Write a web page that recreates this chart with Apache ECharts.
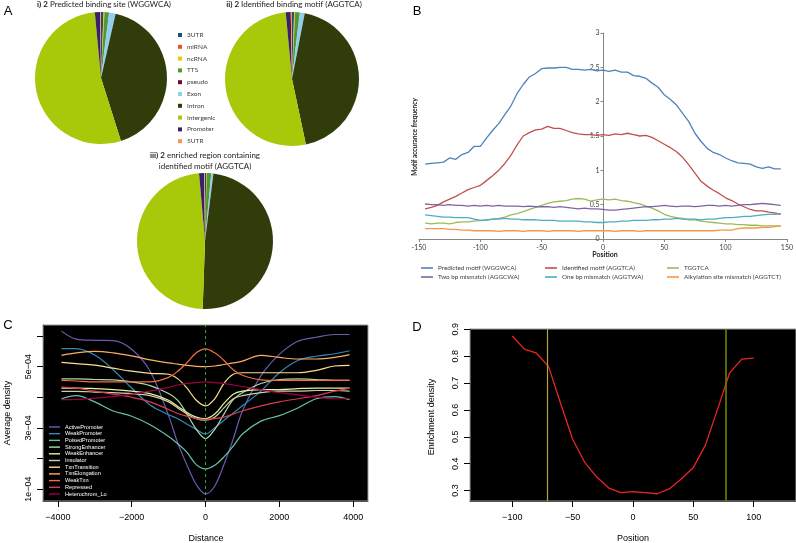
<!DOCTYPE html>
<html><head><meta charset="utf-8">
<script src="https://cdn.jsdelivr.net/npm/echarts@6/dist/echarts.min.js"></script>
<style>html,body{margin:0;padding:0;background:#fff}#c{width:796px;height:543px}</style>
</head><body><div id="c"></div>
<script>
// ---------- Panel A: genomic annotation pies ----------
const pieCategories = ['3UTR','miRNA','ncRNA','TTS','pseudo','Exon','Intron','Intergenic','Promoter','5UTR'];
const pieColors = ['#1f4e79','#e8542b','#f5c400','#4e9a2a','#6d0b2b','#8fd0f0','#303d0b','#a8c80a','#3b2066','#f79646'];
const pie1Values = [0.6,0.05,0.2,1.0,0.1,1.6,41.5,53.3,1.3,0.2];
const pie2Values = [0.5,0.05,0.2,1.0,0.1,1.2,43.6,51.8,1.2,0.3];
const pie3Values = [0.3,0.02,0.1,1.0,0.05,0.5,48.5,48.0,1.2,0.2];

// ---------- Panel B: motif occurrence frequency ----------
const bPositions = [-145,-140,-135,-130,-125,-120,-115,-110,-105,-100,-95,-90,-85,-80,-75,-70,-65,-60,-55,-50,-45,-40,-35,-30,-25,-20,-15,-10,-5,0,5,10,15,20,25,30,35,40,45,50,55,60,65,70,75,80,85,90,95,100,105,110,115,120,125,130,135,140,145];
const bNames = ['Predicted motif (WGGWCA)','Identified motif (AGGTCA)','TGGTCA','Two bp mismatch (AGGCWA)','One bp mismatch (AGGTWA)','Alkylation site mismatch (AGGTCT)'];
const bColors = ['#4f81bd','#c0504d','#9bbb59','#8064a2','#4bacc6','#f79646'];
const bPredicted = [1.09,1.10,1.11,1.12,1.18,1.16,1.23,1.26,1.35,1.35,1.47,1.58,1.68,1.81,1.94,2.12,2.25,2.36,2.41,2.48,2.49,2.49,2.50,2.50,2.47,2.47,2.46,2.47,2.45,2.46,2.44,2.46,2.43,2.43,2.38,2.37,2.34,2.27,2.21,2.10,2.03,1.95,1.83,1.71,1.54,1.42,1.32,1.26,1.23,1.18,1.14,1.11,1.10,1.09,1.05,1.03,1.05,1.02,1.02];
const bIdentified = [0.44,0.46,0.49,0.54,0.58,0.62,0.67,0.72,0.75,0.78,0.85,0.92,1.00,1.10,1.22,1.37,1.50,1.55,1.59,1.60,1.64,1.61,1.61,1.58,1.55,1.53,1.52,1.52,1.51,1.52,1.51,1.53,1.52,1.54,1.52,1.50,1.51,1.48,1.43,1.38,1.33,1.27,1.19,1.08,0.96,0.84,0.77,0.71,0.66,0.60,0.56,0.51,0.47,0.43,0.41,0.41,0.39,0.38,0.36];
const bTGGTCA = [0.23,0.22,0.23,0.23,0.22,0.24,0.25,0.25,0.26,0.27,0.27,0.29,0.30,0.32,0.35,0.37,0.40,0.43,0.46,0.49,0.52,0.54,0.55,0.56,0.58,0.59,0.58,0.55,0.57,0.58,0.57,0.58,0.56,0.55,0.53,0.51,0.48,0.45,0.41,0.36,0.33,0.31,0.30,0.28,0.28,0.26,0.25,0.24,0.23,0.22,0.22,0.21,0.21,0.20,0.20,0.19,0.19,0.19,0.19];
const bTwoBp = [0.51,0.50,0.50,0.49,0.50,0.49,0.49,0.48,0.49,0.48,0.49,0.48,0.49,0.48,0.48,0.48,0.47,0.48,0.47,0.47,0.47,0.46,0.47,0.46,0.45,0.44,0.45,0.44,0.44,0.43,0.42,0.42,0.43,0.44,0.45,0.46,0.47,0.47,0.48,0.49,0.48,0.47,0.48,0.48,0.47,0.48,0.49,0.49,0.48,0.49,0.48,0.49,0.50,0.50,0.51,0.52,0.51,0.50,0.49];
const bOneBp = [0.35,0.34,0.33,0.32,0.32,0.31,0.31,0.31,0.29,0.27,0.28,0.29,0.29,0.30,0.29,0.29,0.28,0.28,0.28,0.27,0.27,0.27,0.26,0.26,0.26,0.26,0.25,0.25,0.24,0.24,0.25,0.25,0.26,0.26,0.27,0.27,0.27,0.28,0.28,0.29,0.29,0.30,0.29,0.29,0.29,0.28,0.29,0.29,0.30,0.31,0.31,0.32,0.33,0.33,0.34,0.35,0.36,0.36,0.37];
const bAlkyl = [0.15,0.15,0.15,0.15,0.14,0.14,0.13,0.13,0.12,0.12,0.12,0.12,0.11,0.12,0.12,0.12,0.11,0.12,0.12,0.12,0.11,0.12,0.12,0.12,0.12,0.11,0.12,0.12,0.12,0.12,0.12,0.11,0.12,0.12,0.12,0.11,0.12,0.12,0.12,0.12,0.12,0.12,0.12,0.12,0.12,0.12,0.12,0.12,0.13,0.13,0.13,0.15,0.16,0.16,0.16,0.17,0.17,0.18,0.19];
const bSeriesValues = [bPredicted,bIdentified,bTGGTCA,bTwoBp,bOneBp,bAlkyl];

// ---------- Panel C: average density (units of 1e-4) ----------
const cDistances = [-3900,-3500,-3000,-2500,-2000,-1500,-1000,-750,-500,-250,0,250,500,750,1000,1500,2000,2500,3000,3500,3900];
const cNames = ['ActivePromoter','WeakPromoter','PoisedPromoter','StrongEnhancer','WeakEnhancer','Insulator','TxnTransition','TxnElongation','WeakTxn','Repressed','Heterochrom_Lo'];
const cColors = ['#6a5cb0','#3288bd','#66c2a5','#abdda4','#e6f598','#cfcfb0','#fee08b','#fdae61','#f46d43','#d53e4f','#9e0142'];
const cActivePromoter = [6.16,5.90,5.86,5.85,5.57,4.85,3.40,2.50,1.78,1.15,0.84,1.10,1.80,2.63,3.55,4.70,5.40,5.83,5.96,6.05,6.05];
const cWeakPromoter   = [5.59,5.59,5.38,4.90,4.30,3.75,3.43,3.30,3.12,2.95,2.80,3.00,3.25,3.48,3.72,4.20,4.80,5.20,5.34,5.42,5.52];
const cPoisedPromoter = [3.95,4.05,3.85,3.55,3.38,3.10,2.72,2.48,2.20,1.80,1.66,1.78,2.05,2.40,2.80,3.22,3.40,3.65,3.95,4.02,3.92];
const cStrongEnhancer = [4.60,4.60,4.58,4.57,4.50,4.38,4.12,3.90,3.45,2.95,2.65,2.95,3.45,3.92,4.15,4.45,4.58,4.60,4.58,4.55,4.55];
const cWeakEnhancer   = [4.30,4.30,4.28,4.25,4.20,4.12,3.90,3.70,3.50,3.35,3.30,3.45,3.80,4.10,4.20,4.25,4.25,4.28,4.30,4.30,4.30];
const cInsulator      = [4.19,4.19,4.17,4.15,4.12,4.05,3.85,3.65,3.45,3.30,3.25,3.35,3.65,3.95,4.05,4.15,4.20,4.20,4.22,4.22,4.20];
const cTxnTransition  = [5.14,5.10,5.05,4.95,4.85,4.78,4.75,4.60,4.30,3.90,3.72,3.95,4.45,4.75,4.80,4.80,4.80,4.80,4.88,5.02,5.04];
const cTxnElongation  = [5.37,5.45,5.50,5.45,5.35,5.22,5.12,5.08,5.04,5.01,5.00,5.02,5.07,5.12,5.18,5.37,5.30,5.25,5.25,5.30,5.39];
const cWeakTxn        = [4.55,4.53,4.50,4.50,4.50,4.50,4.65,4.85,5.13,5.45,5.58,5.45,5.20,4.90,4.72,4.57,4.55,4.55,4.55,4.55,4.55];
const cRepressed      = [4.33,4.30,4.20,4.10,4.00,3.85,3.60,3.47,3.38,3.30,3.28,3.30,3.35,3.45,3.55,3.72,3.85,3.95,4.05,4.20,4.30];
const cHeterochrom    = [3.92,3.93,3.97,4.02,4.10,4.20,4.32,4.40,4.45,4.48,4.50,4.48,4.45,4.40,4.35,4.25,4.15,4.08,4.00,3.95,3.95];
const cSeriesValues = [cActivePromoter,cWeakPromoter,cPoisedPromoter,cStrongEnhancer,cWeakEnhancer,cInsulator,cTxnTransition,cTxnElongation,cWeakTxn,cRepressed,cHeterochrom];
const cYTicks = [1,2,3,4,5,6];
const cYLabels = [1,3,5];
const cXTicks = [-4000,-2000,0,2000,4000];

// ---------- Panel D: enrichment density ----------
const dPositions = [-100,-90,-80,-70,-60,-50,-40,-30,-20,-10,0,10,20,30,40,50,60,70,80,90,100];
const dEnrichment = [0.875,0.826,0.811,0.762,0.625,0.491,0.405,0.350,0.309,0.292,0.296,0.292,0.288,0.306,0.343,0.386,0.469,0.602,0.737,0.789,0.793];
const dBoundaries = [-71.2, 76.5];
const dYTicks = [0.3,0.4,0.5,0.6,0.7,0.8,0.9];
const dXTicks = [-100,-50,0,50,100];

const EXCEL_FONT = 'Lato';
const R_FONT = 'Liberation Sans';
const minus = s => String(s).replace('-', '\u2212');

const chart = echarts.init(document.getElementById('c'), null, {renderer: 'canvas'});

const series = [];
const pieCommon = {
  type: 'pie', startAngle: 90, clockwise: true, label: {show: false}, labelLine: {show: false},
  itemStyle: {borderWidth: 0}, emphasis: {disabled: true}, silent: true
};
const pieData = vals => pieCategories.map((n, i) => ({name: n, value: vals[i], itemStyle: {color: pieColors[i]}}));
series.push(Object.assign({}, pieCommon, {center: [101, 78], radius: 66, data: pieData(pie1Values)}));
series.push(Object.assign({}, pieCommon, {center: [292, 79], radius: 67, data: pieData(pie2Values)}));
series.push(Object.assign({}, pieCommon, {center: [205, 241], radius: 68, data: pieData(pie3Values)}));

bNames.forEach((n, i) => series.push({
  name: n, type: 'line', xAxisIndex: 0, yAxisIndex: 0, symbol: 'none',
  lineStyle: {width: 1.3, color: bColors[i]}, itemStyle: {color: bColors[i]},
  data: bPositions.map((x, j) => [x, bSeriesValues[i][j]])
}));

cNames.forEach((n, i) => {
  const s = {
    name: n, type: 'line', xAxisIndex: 1, yAxisIndex: 1, symbol: 'none', smooth: 0.35,
    lineStyle: {width: 1.2, color: cColors[i]}, itemStyle: {color: cColors[i]},
    data: cDistances.map((x, j) => [x, cSeriesValues[i][j]])
  };
  if (i === 0) {
    s.markLine = {symbol: ['none','none'], silent: true, label: {show: false},
      lineStyle: {color: '#2fa82f', type: [3, 3], width: 1}, data: [{xAxis: 0}]};
  }
  series.push(s);
});

series.push({
  name: 'Enrichment', type: 'line', xAxisIndex: 2, yAxisIndex: 2, symbol: 'none',
  lineStyle: {width: 1.3, color: '#e8261e'},
  data: dPositions.map((x, j) => [x, dEnrichment[j]]),
  markLine: {symbol: ['none','none'], silent: true, label: {show: false},
    data: [{xAxis: dBoundaries[0], lineStyle: {color: '#b3a440', width: 1.2, type: 'solid'}},
           {xAxis: dBoundaries[1], lineStyle: {color: '#6f8000', width: 1.6, type: 'solid'}}]}
});

// legends
const legends = [];
legends.push({data: pieCategories, orient: 'vertical', left: 178, top: 31, icon: 'rect', itemWidth: 4, itemHeight: 4,
  itemGap: 3.8, padding: 0, selectedMode: false, textStyle: {fontFamily: EXCEL_FONT, fontSize: 6.5, lineHeight: 8, color: '#404040'}});
const bLegPos = [[421,264],[545,264],[667,264],[421,273],[545,273],[667,273]];
bNames.forEach((n, i) => legends.push({data: [n], left: bLegPos[i][0], top: bLegPos[i][1], icon: 'rect', itemWidth: 12, itemHeight: 1.6,
  padding: 0, selectedMode: false, textStyle: {fontFamily: EXCEL_FONT, fontSize: 6.3, lineHeight: 8, color: '#404040'}}));
legends.push({data: cNames, orient: 'vertical', left: 49, top: 424, icon: 'rect', itemWidth: 11, itemHeight: 1.4, itemGap: 0.7,
  padding: 0, selectedMode: false, textStyle: {fontFamily: R_FONT, fontSize: 5.6, lineHeight: 6, color: '#ffffff'}});

const rAxisLabel = {fontFamily: R_FONT, fontSize: 9, color: '#000'};

const option = {
  animation: false,
  backgroundColor: '#ffffff',
  legend: legends,
  grid: [
    {left: 419, top: 33, width: 369, height: 206, show: false},
    {left: 43, top: 325, width: 325, height: 176, show: true, backgroundColor: '#000', borderColor: '#9a9a9a', borderWidth: 1},
    {left: 470, top: 329, width: 326, height: 172, show: true, backgroundColor: '#000', borderColor: '#9a9a9a', borderWidth: 1}
  ],
  xAxis: [
    {gridIndex: 0, type: 'value', min: -150, max: 150, interval: 50, splitLine: {show: false},
      axisLine: {onZero: false, lineStyle: {color: '#868686'}}, axisTick: {show: true, length: 3, lineStyle: {color: '#868686'}},
      axisLabel: {fontFamily: EXCEL_FONT, fontSize: 7, color: '#404040', margin: 5}},
    {gridIndex: 1, type: 'value', min: -4400, max: 4400, splitLine: {show: false},
      axisLine: {onZero: false, lineStyle: {color: '#555'}},
      axisTick: {show: true, length: 6, customValues: cXTicks, lineStyle: {color: '#000'}},
      axisLabel: Object.assign({}, rAxisLabel, {customValues: cXTicks, margin: 12, formatter: v => minus(v)})},
    {gridIndex: 2, type: 'value', min: -135, max: 135, splitLine: {show: false},
      axisLine: {onZero: false, lineStyle: {color: '#555'}},
      axisTick: {show: true, length: 6, customValues: dXTicks, lineStyle: {color: '#000'}},
      axisLabel: Object.assign({}, rAxisLabel, {customValues: dXTicks, margin: 12, formatter: v => minus(v)})}
  ],
  yAxis: [
    // Excel's vertical axis crosses the horizontal axis at position 0 (middle of the plot)
    {gridIndex: 0, type: 'value', min: 0, max: 3, interval: 0.5, splitLine: {show: false}, position: 'left', offset: -184.5,
      axisLine: {show: true, onZero: false, lineStyle: {color: '#868686'}}, axisTick: {show: true, length: 3, lineStyle: {color: '#868686'}},
      axisLabel: {fontFamily: EXCEL_FONT, fontSize: 7, color: '#404040', margin: 4, hideOverlap: false}},
    {gridIndex: 1, type: 'value', min: 0.61, max: 6.36, splitLine: {show: false},
      axisLine: {show: true, onZero: false, lineStyle: {color: '#555'}},
      axisTick: {show: true, length: 6, customValues: cYTicks, lineStyle: {color: '#000'}},
      axisLabel: Object.assign({}, rAxisLabel, {customValues: cYLabels, rotate: 90, margin: 10,
        formatter: v => Math.round(v) + 'e\u221204'})},
    {gridIndex: 2, type: 'value', min: 0.261, max: 0.901, splitLine: {show: false},
      axisLine: {show: true, onZero: false, lineStyle: {color: '#555'}},
      axisTick: {show: true, length: 6, customValues: dYTicks, lineStyle: {color: '#000'}},
      axisLabel: Object.assign({}, rAxisLabel, {customValues: dYTicks, rotate: 90, margin: 10,
        formatter: v => v.toFixed(1)})}
  ],
  graphic: [
    {type: 'text', x: 8, y: 11, style: {text: 'A', fontFamily: R_FONT, fontSize: 13, fill: '#000', align: 'center', verticalAlign: 'middle'}},
    {type: 'text', x: 417, y: 11.5, style: {text: 'B', fontFamily: R_FONT, fontSize: 13, fill: '#000', align: 'center', verticalAlign: 'middle'}},
    {type: 'text', x: 8, y: 325, style: {text: 'C', fontFamily: R_FONT, fontSize: 13, fill: '#000', align: 'center', verticalAlign: 'middle'}},
    {type: 'text', x: 417, y: 327, style: {text: 'D', fontFamily: R_FONT, fontSize: 13, fill: '#000', align: 'center', verticalAlign: 'middle'}},
    {type: 'text', x: 104, y: 4, style: {text: '{b|i) 2} Predicted binding site (WGGWCA)', fontFamily: EXCEL_FONT, fontSize: 8, fill: '#222',
      align: 'center', verticalAlign: 'middle', rich: {b: {fontWeight: 'bold', fontFamily: EXCEL_FONT, fontSize: 8, fill: '#222'}}}},
    {type: 'text', x: 294, y: 4, style: {text: '{b|ii) 2} Identified binding motif (AGGTCA)', fontFamily: EXCEL_FONT, fontSize: 8, fill: '#222',
      align: 'center', verticalAlign: 'middle', rich: {b: {fontWeight: 'bold', fontFamily: EXCEL_FONT, fontSize: 8, fill: '#222'}}}},
    {type: 'text', x: 205, y: 155, style: {text: '{b|iii) 2} enriched region containing', fontFamily: EXCEL_FONT, fontSize: 8, fill: '#222',
      align: 'center', verticalAlign: 'middle', rich: {b: {fontWeight: 'bold', fontFamily: EXCEL_FONT, fontSize: 8, fill: '#222'}}}},
    {type: 'text', x: 205, y: 166, style: {text: 'identified motif (AGGTCA)', fontFamily: EXCEL_FONT, fontSize: 8, fill: '#222',
      align: 'center', verticalAlign: 'middle'}},
    {type: 'text', x: 605, y: 255, style: {text: 'Position', fontFamily: EXCEL_FONT, fontSize: 7, fontWeight: 'bold', fill: '#222', align: 'center', verticalAlign: 'middle'}},
    {type: 'text', x: 415, y: 137, rotation: Math.PI / 2, style: {text: 'Motif accurance frequency', fontFamily: EXCEL_FONT, fontSize: 6.5, fontWeight: 'bold', fill: '#222', align: 'center', verticalAlign: 'middle'}},
    {type: 'text', x: 206, y: 539, style: {text: 'Distance', fontFamily: R_FONT, fontSize: 9, fill: '#000', align: 'center', verticalAlign: 'middle'}},
    {type: 'text', x: 8, y: 413, rotation: Math.PI / 2, style: {text: 'Average density', fontFamily: R_FONT, fontSize: 9, fill: '#000', align: 'center', verticalAlign: 'middle'}},
    {type: 'text', x: 633, y: 539, style: {text: 'Position', fontFamily: R_FONT, fontSize: 9, fill: '#000', align: 'center', verticalAlign: 'middle'}},
    {type: 'text', x: 432, y: 417, rotation: Math.PI / 2, style: {text: 'Enrichment density', fontFamily: R_FONT, fontSize: 9, fill: '#000', align: 'center', verticalAlign: 'middle'}}
  ],
  series: series
};
chart.setOption(option);
</script>
</body></html>
